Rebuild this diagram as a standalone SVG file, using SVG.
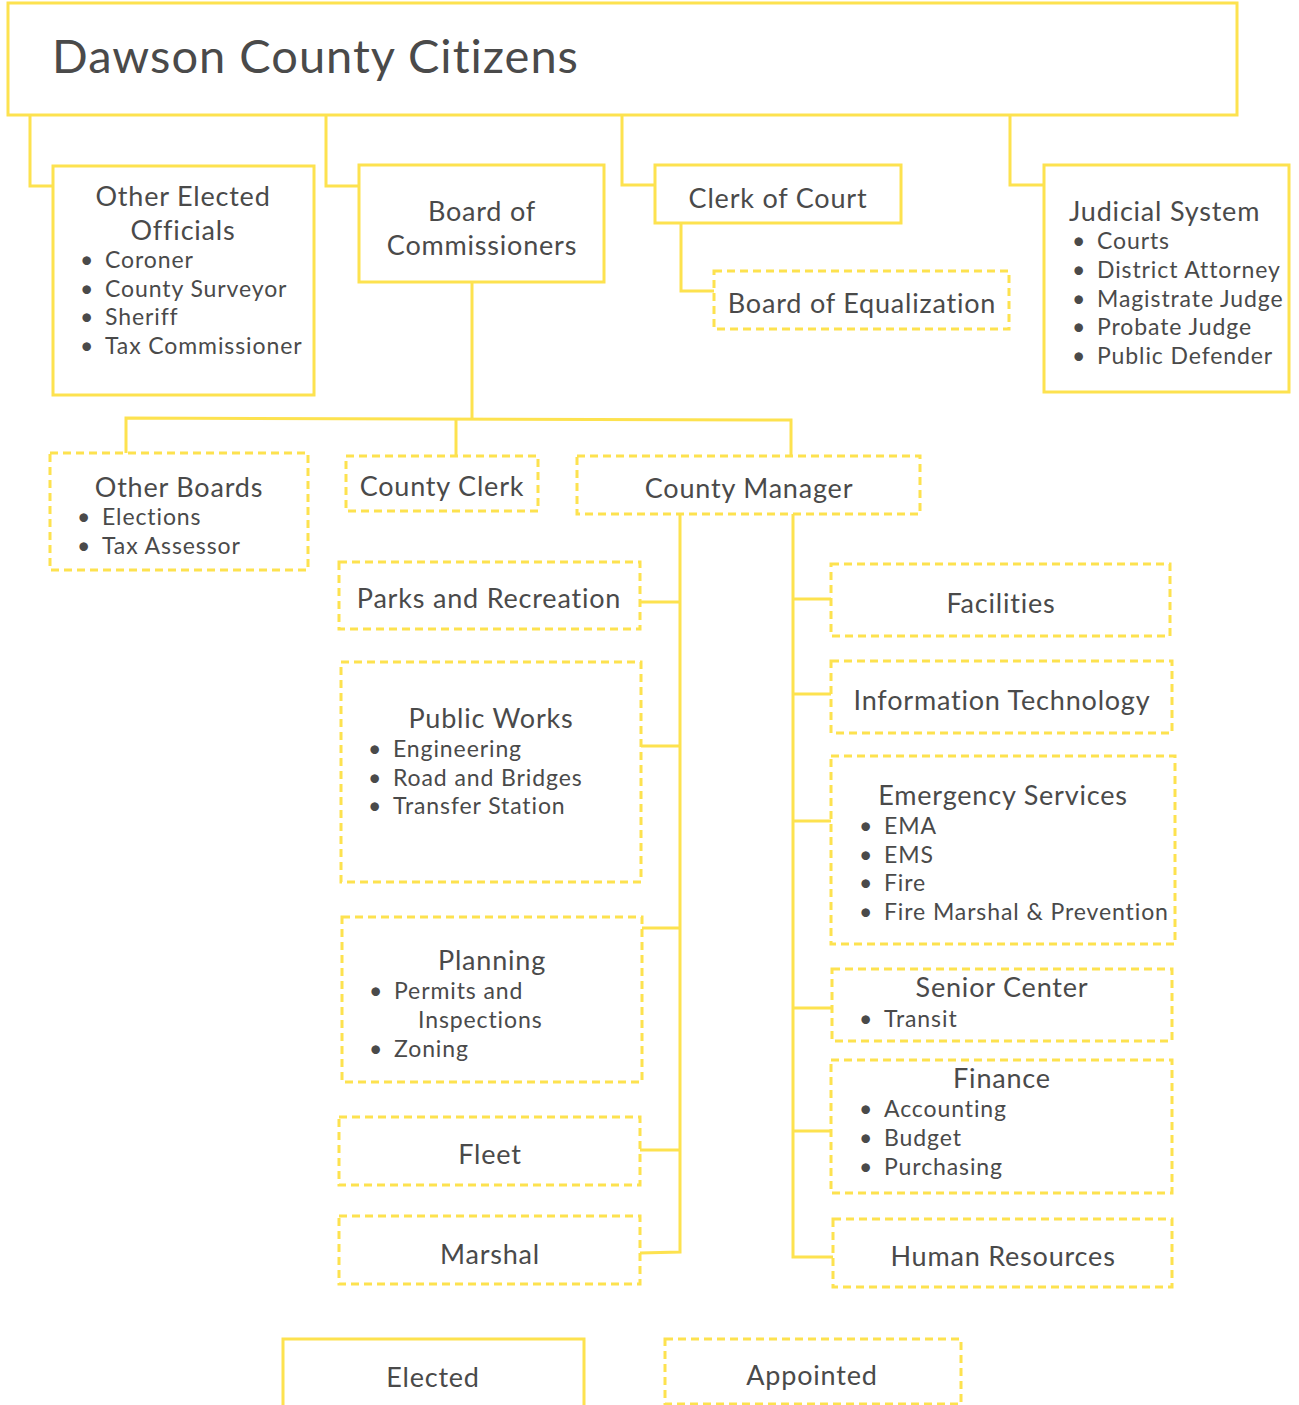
<svg xmlns="http://www.w3.org/2000/svg" width="1299" height="1405" viewBox="0 0 1299 1405">
<style>
.b{fill:#fff;stroke:#FDE24F;stroke-width:3}
.d{fill:#fff;stroke:#FDE24F;stroke-width:3;stroke-dasharray:8 5}
.c{fill:none;stroke:#FDE24F;stroke-width:3}
text{font-family:Lato,"Noto Sans","DejaVu Sans",sans-serif;fill:#4a4a4a;font-size:27px;letter-spacing:0.8px}
.m{text-anchor:middle}
.s{font-size:23px;letter-spacing:0.9px}
.t{font-size:47px;letter-spacing:1px}
</style>
<rect width="1299" height="1405" fill="#fff"/>
<g id="connectors">
<polyline class="c" points="30,115 30,186 52,186"/>
<polyline class="c" points="326,115 326,186 359,186"/>
<polyline class="c" points="622,115 622,185 655,185"/>
<polyline class="c" points="1010,115 1010,185 1044,185"/>
<polyline class="c" points="681,223 681,291 714,291"/>
<polyline class="c" points="472,282 472,418"/>
<polyline class="c" points="126,453 126,418 791,420 791,456"/>
<polyline class="c" points="456,418 456,455"/>
<polyline class="c" points="680,514 680,1252 640,1253"/>
<polyline class="c" points="793,514 793,1257 833,1257"/>
<line class="c" x1="640" y1="602" x2="680" y2="602"/>
<line class="c" x1="641" y1="746" x2="680" y2="746"/>
<line class="c" x1="642" y1="928" x2="680" y2="928"/>
<line class="c" x1="640" y1="1150" x2="680" y2="1150"/>
<line class="c" x1="793" y1="599" x2="831" y2="599"/>
<line class="c" x1="793" y1="694" x2="831" y2="694"/>
<line class="c" x1="793" y1="821" x2="831" y2="821"/>
<line class="c" x1="793" y1="1008" x2="832" y2="1008"/>
<line class="c" x1="793" y1="1131" x2="831" y2="1131"/>
</g>
<g id="citizens"><rect class="b" x="8" y="3" width="1229" height="112"/><text class="t" x="52" y="73">Dawson County Citizens</text></g>
<g id="other-elected"><rect class="b" x="53" y="166" width="261" height="229"/>
<text class="m" x="183" y="206">Other Elected</text><text class="m" x="183" y="240">Officials</text>
<text class="s" x="80" y="268">•</text><text class="s" x="105" y="268">Coroner</text>
<text class="s" x="80" y="297">•</text><text class="s" x="105" y="297">County Surveyor</text>
<text class="s" x="80" y="325">•</text><text class="s" x="105" y="325">Sheriff</text>
<text class="s" x="80" y="354">•</text><text class="s" x="105" y="354">Tax Commissioner</text></g>
<g id="board-commissioners"><rect class="b" x="359" y="165" width="245" height="117"/>
<text class="m" x="482" y="221">Board of</text><text class="m" x="482" y="255">Commissioners</text></g>
<g id="clerk-court"><rect class="b" x="655" y="165" width="246" height="58"/><text class="m" x="778" y="208">Clerk of Court</text></g>
<g id="board-equalization"><rect class="d" x="714" y="271" width="295" height="58"/><text class="m" x="862" y="313">Board of Equalization</text></g>
<g id="judicial"><rect class="b" x="1044" y="165" width="245" height="227"/>
<text x="1069" y="221">Judicial System</text>
<text class="s" x="1072" y="249">•</text><text class="s" x="1097" y="249">Courts</text>
<text class="s" x="1072" y="278">•</text><text class="s" x="1097" y="278">District Attorney</text>
<text class="s" x="1072" y="307">•</text><text class="s" x="1097" y="307">Magistrate Judge</text>
<text class="s" x="1072" y="335">•</text><text class="s" x="1097" y="335">Probate Judge</text>
<text class="s" x="1072" y="364">•</text><text class="s" x="1097" y="364">Public Defender</text></g>
<g id="other-boards"><rect class="d" x="50" y="453" width="258" height="117"/>
<text class="m" x="179" y="497">Other Boards</text>
<text class="s" x="77" y="525">•</text><text class="s" x="102" y="525">Elections</text>
<text class="s" x="77" y="554">•</text><text class="s" x="102" y="554">Tax Assessor</text></g>
<g id="county-clerk"><rect class="d" x="346" y="456" width="192" height="55"/><text class="m" x="442" y="496">County Clerk</text></g>
<g id="county-manager"><rect class="d" x="577" y="456" width="343" height="58"/><text class="m" x="749" y="498">County Manager</text></g>
<g id="parks"><rect class="d" x="339" y="562" width="301" height="67"/><text class="m" x="489" y="608">Parks and Recreation</text></g>
<g id="public-works"><rect class="d" x="341" y="662" width="300" height="220"/>
<text class="m" x="491" y="728">Public Works</text>
<text class="s" x="368" y="757">•</text><text class="s" x="393" y="757">Engineering</text>
<text class="s" x="368" y="786">•</text><text class="s" x="393" y="786">Road and Bridges</text>
<text class="s" x="368" y="814">•</text><text class="s" x="393" y="814">Transfer Station</text></g>
<g id="planning"><rect class="d" x="342" y="917" width="300" height="165"/>
<text class="m" x="492" y="970">Planning</text>
<text class="s" x="369" y="999">•</text><text class="s" x="394" y="999">Permits and</text>
<text class="s" x="418" y="1028">Inspections</text>
<text class="s" x="369" y="1057">•</text><text class="s" x="394" y="1057">Zoning</text></g>
<g id="fleet"><rect class="d" x="339" y="1117" width="301" height="68"/><text class="m" x="490" y="1164">Fleet</text></g>
<g id="marshal"><rect class="d" x="339" y="1216" width="301" height="68"/><text class="m" x="490" y="1264">Marshal</text></g>
<g id="facilities"><rect class="d" x="831" y="564" width="339" height="72"/><text class="m" x="1001" y="613">Facilities</text></g>
<g id="it"><rect class="d" x="831" y="661" width="341" height="72"/><text class="m" x="1002" y="710">Information Technology</text></g>
<g id="emergency"><rect class="d" x="831" y="756" width="344" height="188"/>
<text class="m" x="1003" y="805">Emergency Services</text>
<text class="s" x="859" y="834">•</text><text class="s" x="884" y="834">EMA</text>
<text class="s" x="859" y="863">•</text><text class="s" x="884" y="863">EMS</text>
<text class="s" x="859" y="891">•</text><text class="s" x="884" y="891">Fire</text>
<text class="s" x="859" y="920">•</text><text class="s" x="884" y="920">Fire Marshal &amp; Prevention</text></g>
<g id="senior"><rect class="d" x="832" y="969" width="340" height="72"/>
<text class="m" x="1002" y="997">Senior Center</text>
<text class="s" x="859" y="1027">•</text><text class="s" x="884" y="1027">Transit</text></g>
<g id="finance"><rect class="d" x="831" y="1060" width="341" height="133"/>
<text class="m" x="1002" y="1088">Finance</text>
<text class="s" x="859" y="1117">•</text><text class="s" x="884" y="1117">Accounting</text>
<text class="s" x="859" y="1146">•</text><text class="s" x="884" y="1146">Budget</text>
<text class="s" x="859" y="1175">•</text><text class="s" x="884" y="1175">Purchasing</text></g>
<g id="hr"><rect class="d" x="833" y="1219" width="339" height="68"/><text class="m" x="1003" y="1266">Human Resources</text></g>
<g id="legend-elected"><polyline class="b" points="283,1405 283,1339 584,1339 584,1405"/><text class="m" x="433" y="1387">Elected</text></g>
<g id="legend-appointed"><rect class="d" x="665" y="1339" width="296" height="65"/><text class="m" x="812" y="1385">Appointed</text></g>
</svg>
